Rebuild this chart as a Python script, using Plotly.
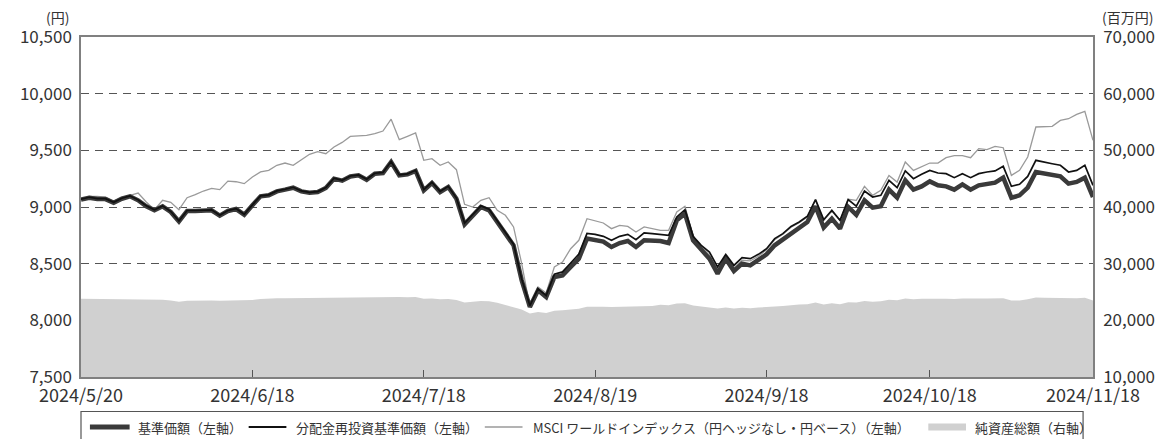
import pandas as pd
import plotly.graph_objects as go

# ---------------- data ----------------
start_date = "2024-05-20"
end_date = "2024-11-18"
jp_holidays = ["2024-07-15", "2024-08-12", "2024-09-16", "2024-09-23", "2024-10-14", "2024-11-04"]
dates = [d.strftime("%Y-%m-%d") for d in pd.bdate_range(start_date, end_date) if d.strftime("%Y-%m-%d") not in jp_holidays]

tick_dates = ["2024-05-20", "2024-06-18", "2024-07-18", "2024-08-19", "2024-09-18", "2024-10-18", "2024-11-18"]
tick_labels = ["2024/5/20", "2024/6/18", "2024/7/18", "2024/8/19", "2024/9/18", "2024/10/18", "2024/11/18"]

base_nav = [
    9065, 9082, 9070, 9070, 9038, 9073, 9094, 9059, 9006, 8971,
    9006, 8956, 8873, 8965, 8965, 8965, 8971, 8924, 8965, 8982,
    8932, 9015, 9094, 9103, 9138, 9153, 9170, 9138, 9126, 9132,
    9168, 9250, 9232, 9270, 9279, 9240, 9294, 9300, 9397, 9279,
    9288, 9318, 9147, 9212, 9132, 9176, 9073, 8847, 8927, 9000,
    8971, 8868, 8771, 8662, 8353, 8118, 8265, 8206, 8382, 8397,
    8471, 8544, 8721, 8705, 8695, 8647, 8682, 8700, 8647, 8706,
    8700, 8700, 8682, 8882, 8941, 8706, 8624, 8544, 8412, 8544,
    8435, 8500, 8485, 8530, 8582, 8662, 8712, 8771, 8824, 8868,
    9006, 8818, 8897, 8809, 9000, 8930, 9059, 8994, 9006, 9153,
    9082, 9235, 9153, 9182, 9226, 9191, 9182, 9153, 9200, 9153,
    9191, 9206, 9215, 9259, 9082, 9103, 9171, 9309, 9294, 9279,
    9270, 9206, 9221, 9259, 9088,
]

reinvest_nav = [
    9069, 9086, 9074, 9074, 9042, 9077, 9098, 9063, 9010, 8975,
    9010, 8960, 8877, 8969, 8969, 8969, 8975, 8928, 8969, 8986,
    8936, 9019, 9098, 9107, 9142, 9157, 9174, 9142, 9130, 9136,
    9172, 9254, 9236, 9274, 9283, 9244, 9298, 9304, 9401, 9283,
    9292, 9324, 9153, 9218, 9138, 9182, 9079, 8857, 8937, 9010,
    8981, 8878, 8781, 8672, 8365, 8130, 8277, 8218, 8407, 8427,
    8506, 8584, 8766, 8759, 8741, 8706, 8741, 8759, 8712, 8771,
    8765, 8759, 8750, 8912, 8976, 8741, 8662, 8603, 8471, 8582,
    8485, 8553, 8544, 8582, 8632, 8721, 8765, 8829, 8868, 8918,
    9065, 8888, 8971, 8882, 9065, 9008, 9141, 9088, 9103, 9235,
    9171, 9318, 9250, 9288, 9323, 9300, 9294, 9259, 9294, 9259,
    9294, 9309, 9318, 9359, 9182, 9200, 9270, 9412, 9394, 9382,
    9368, 9309, 9323, 9368, 9191,
]

msci_world = [
    9068, 9094, 9094, 9088, 9053, 9082, 9103, 9123, 9044, 8976,
    9059, 9041, 8976, 9082, 9109, 9141, 9165, 9153, 9229, 9223,
    9206, 9265, 9309, 9323, 9368, 9388, 9368, 9418, 9465, 9488,
    9470, 9529, 9570, 9623, 9629, 9632, 9647, 9670, 9775, 9594,
    9623, 9653, 9412, 9426, 9368, 9397, 9329, 9024, 9000, 9059,
    9082, 8971, 8927, 8824, 8500, 8118, 8294, 8241, 8471, 8515,
    8632, 8706, 8897, 8877, 8859, 8809, 8838, 8829, 8779, 8824,
    8809, 8794, 8794, 8956, 9006, 8741, 8650, 8575, 8445, 8565,
    8462, 8530, 8525, 8565, 8622, 8712, 8760, 8822, 8862, 8912,
    9062, 8880, 8965, 8880, 9068, 9059, 9182, 9103, 9147, 9279,
    9220, 9397, 9323, 9353, 9388, 9388, 9435, 9453, 9453, 9435,
    9515, 9506, 9535, 9523, 9279, 9323, 9441, 9706, 9706, 9712,
    9764, 9779, 9817, 9844, 9588,
]

total_net_assets = [
    23800, 23780, 23760, 23790, 23770, 23760, 23800, 23780, 23700, 23650,
    23620, 23500, 23300, 23450, 23500, 23480, 23500, 23450, 23480, 23500,
    23450, 23600, 23750, 23850, 23880, 23900, 23920, 23900, 23900, 23920,
    23950, 24050, 24050, 24080, 24100, 24080, 24100, 24120, 24150, 24100,
    24080, 24100, 23800, 23850, 23700, 23750, 23600, 23150, 23300, 23400,
    23350, 23100, 22700, 22350, 21900, 21200, 21450, 21300, 21700, 21800,
    21950, 22050, 22400, 22450, 22400, 22350, 22400, 22450, 22400, 22500,
    22550, 22750, 22650, 22950, 23000, 22600, 22450, 22300, 22100, 22250,
    22100, 22200, 22150, 22250, 22300, 22450, 22550, 22700, 22800, 22850,
    23150, 22800, 23000, 22850, 23200, 23150, 23400, 23300, 23350, 23650,
    23550, 23850, 23700, 23800, 23850, 23800, 23800, 23750, 23850, 23800,
    23850, 23850, 23900, 23900, 23500, 23500, 23700, 24050, 24000, 23950,
    23950, 23850, 23900, 24000, 23500,
]

legend_names = [
    "基準価額（左軸）",
    "分配金再投資基準価額（左軸）",
    "MSCI ワールドインデックス（円ヘッジなし・円ベース）（左軸）",
    "純資産総額（右軸）",
]

# ---------------- styling ----------------
FONT = "Noto Sans CJK JP"
PAGE_OFF = 8                     # browser default body margin
W, H = 1172 - PAGE_OFF, 439 - PAGE_OFF
L, R, T, B = 73, 1093, 37, 377   # plot area in page pixels

C_BASE = "#3a3a3a"
C_REINV = "#111111"
C_MSCI = "#9a9a9a"
C_AREA = "#d0d0d0"
AXIS_C = "#808080"
TXT = "#333333"


def px_x(px):
    return (px - L) / (R - L)


def px_y(py):
    return (B - py) / (B - T)


fig = go.Figure()

# Net assets area (right axis -> yaxis, drawn underneath)
fig.add_trace(go.Scatter(
    x=dates, y=total_net_assets, yaxis="y", mode="lines",
    line=dict(color=C_AREA, width=0), fill="tozeroy", fillcolor=C_AREA,
    name=legend_names[3], showlegend=False, hoverinfo="skip",
))
# MSCI
fig.add_trace(go.Scatter(
    x=dates, y=msci_world, yaxis="y2", mode="lines",
    line=dict(color=C_MSCI, width=1.3), name=legend_names[2], showlegend=False,
))
# Base NAV (thick)
fig.add_trace(go.Scatter(
    x=dates, y=base_nav, yaxis="y2", mode="lines",
    line=dict(color=C_BASE, width=4.5), name=legend_names[0], showlegend=False,
))
# Reinvested NAV (thin)
fig.add_trace(go.Scatter(
    x=dates, y=reinvest_nav, yaxis="y2", mode="lines",
    line=dict(color=C_REINV, width=1.7), name=legend_names[1], showlegend=False,
))

tickfont = dict(family=FONT, size=17, color=TXT)
xtickfont = dict(family=FONT, size=18, color=TXT)

fig.update_layout(
    width=W, height=H,
    margin=dict(l=L - PAGE_OFF, r=W - (R - PAGE_OFF), t=T - PAGE_OFF, b=H - (B - PAGE_OFF), pad=0),
    paper_bgcolor="white", plot_bgcolor="white",
    font=dict(family=FONT, color=TXT),
    showlegend=False,
    xaxis=dict(
        type="category", categoryorder="array", categoryarray=dates,
        range=[0, len(dates) - 1],
        tickmode="array", tickvals=tick_dates, ticktext=tick_labels,
        ticks="inside", ticklen=7, tickwidth=1.2, tickcolor="#555555",
        showgrid=False, zeroline=False,
        showline=True, linecolor=AXIS_C, linewidth=1.5, mirror=True,
        tickfont=xtickfont, ticklabelstandoff=2,
    ),
    yaxis=dict(
        side="right", range=[10000, 70000], dtick=10000, tick0=10000,
        tickformat=",d", showgrid=False, zeroline=False,
        showline=True, linecolor=AXIS_C, linewidth=1.5,
        ticks="", tickfont=tickfont, ticklabelstandoff=5,
    ),
    yaxis2=dict(
        side="left", overlaying="y", range=[7500, 10500], dtick=500, tick0=7500,
        tickformat=",d", showgrid=True, gridcolor="#555555", gridwidth=1.2,
        griddash="8px,6px", zeroline=False,
        showline=True, linecolor=AXIS_C, linewidth=1.5,
        ticks="", tickfont=tickfont, ticklabelstandoff=4,
    ),
)

# Axis unit labels
fig.add_annotation(text="(円)", xref="paper", yref="paper", x=px_x(63), y=px_y(17),
                   xanchor="right", yanchor="middle", showarrow=False,
                   font=dict(family=FONT, size=14, color=TXT))
fig.add_annotation(text="(百万円)", xref="paper", yref="paper", x=px_x(1100), y=px_y(17),
                   xanchor="left", yanchor="middle", showarrow=False,
                   font=dict(family=FONT, size=14, color=TXT))

# Legend box (drawn manually)
fig.add_shape(type="rect", xref="paper", yref="paper",
              x0=px_x(73), x1=px_x(1083), y0=px_y(411.5), y1=px_y(450),
              line=dict(color="#555555", width=1.2), fillcolor="rgba(0,0,0,0)")

legend_items = [
    (82, 122, C_BASE, 5, 128, legend_names[0]),
    (242, 280, C_REINV, 1.8, 288, legend_names[1]),
    (480, 518, C_MSCI, 1.3, 527, legend_names[2]),
    (927, 965, C_AREA, 7, 972, legend_names[3]),
]
LEG_Y = 427
for sx0, sx1, col, wdt, tx, name in legend_items:
    fig.add_shape(type="line", xref="paper", yref="paper",
                  x0=px_x(sx0), x1=px_x(sx1), y0=px_y(LEG_Y), y1=px_y(LEG_Y),
                  line=dict(color=col, width=wdt))
    fig.add_annotation(text=name, xref="paper", yref="paper", x=px_x(tx), y=px_y(LEG_Y),
                       xanchor="left", yanchor="middle", showarrow=False,
                       font=dict(family=FONT, size=13, color=TXT))

fig.write_html("out.html")
